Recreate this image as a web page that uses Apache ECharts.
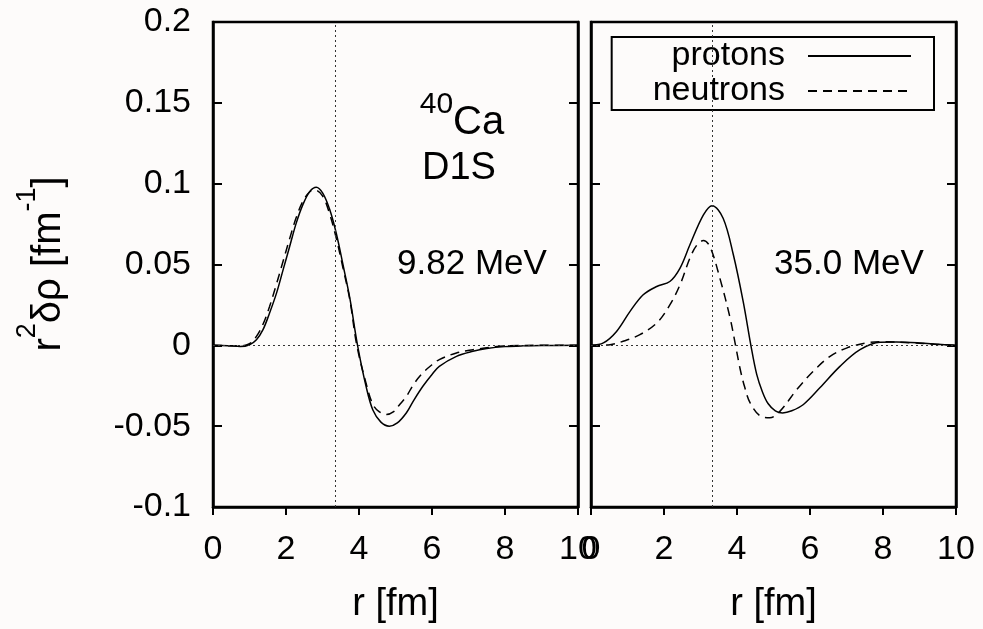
<!DOCTYPE html>
<html>
<head>
<meta charset="utf-8">
<script src="https://cdn.jsdelivr.net/npm/echarts@6/dist/echarts.min.js"></script>
<style>
html, body { margin: 0; padding: 0; background: #fdfbfa; }
#main { width: 983px; height: 629px; }
</style>
</head>
<body>
<div id="main"></div>
<script>
// r [fm], r^2 drho [fm^-1]
var leftProtons = [
    [0, 0], [0.4, -0.0003], [0.75, -0.0007], [1.0, 0.0004], [1.19, 0.0035], [1.37, 0.0097],
    [1.55, 0.020], [1.74, 0.0323], [1.92, 0.0467], [2.1, 0.0611], [2.28, 0.0756],
    [2.46, 0.0869], [2.65, 0.0951], [2.83, 0.0978], [3.01, 0.094], [3.2, 0.0838],
    [3.38, 0.069], [3.56, 0.050], [3.75, 0.029], [3.96, 0.0], [4.2, -0.026],
    [4.38, -0.040], [4.6, -0.0475], [4.83, -0.050], [5.05, -0.048], [5.3, -0.0417],
    [5.5, -0.034], [5.75, -0.0253], [6.0, -0.018], [6.2, -0.013], [6.67, -0.0068],
    [7.12, -0.0037], [7.5, -0.002], [8.0, -0.0008], [8.5, -0.0003], [9.0, -0.0001], [10, 0]
];
var leftNeutrons = [
    [0, 0], [0.4, -0.0002], [0.75, -0.0004], [1.0, 0.001], [1.19, 0.0055], [1.37, 0.013],
    [1.55, 0.024], [1.74, 0.038], [1.92, 0.052], [2.1, 0.066], [2.28, 0.079],
    [2.46, 0.089], [2.65, 0.095], [2.78, 0.0961], [3.0, 0.0925], [3.2, 0.081],
    [3.38, 0.066], [3.56, 0.048], [3.75, 0.028], [3.94, 0.0], [4.2, -0.024],
    [4.38, -0.0366], [4.55, -0.041], [4.75, -0.0428], [4.95, -0.041], [5.1, -0.037],
    [5.3, -0.0315], [5.5, -0.024], [5.75, -0.017], [6.0, -0.012], [6.2, -0.0088],
    [6.67, -0.0047], [7.12, -0.0027], [7.5, -0.0015], [8.0, -0.0004], [9.0, 0], [10, 0]
];
var rightProtons = [
    [0, 0], [0.34, 0.0015], [0.7, 0.0086], [1.07, 0.021], [1.43, 0.0313], [1.8, 0.0364],
    [2.16, 0.0395], [2.44, 0.0478], [2.71, 0.0622], [3.08, 0.0807], [3.32, 0.0864],
    [3.62, 0.0786], [3.9, 0.056], [4.17, 0.027], [4.38, 0.0], [4.54, -0.018],
    [4.7, -0.029], [4.85, -0.036], [5.05, -0.0405], [5.25, -0.0418], [5.5, -0.0405],
    [5.82, -0.0366], [6.27, -0.0263], [6.82, -0.013], [7.37, -0.0027], [7.92, 0.0019],
    [8.37, 0.002], [9.0, 0.0015], [9.5, 0.0007], [10, 0]
];
var rightNeutrons = [
    [0, 0], [0.52, 0.0004], [0.88, 0.0025], [1.34, 0.0066], [1.8, 0.0138], [2.16, 0.025],
    [2.44, 0.0375], [2.71, 0.054], [2.9, 0.062], [3.08, 0.0648], [3.26, 0.061],
    [3.53, 0.0416], [3.81, 0.017], [3.96, 0.0], [4.08, -0.014], [4.2, -0.025],
    [4.36, -0.0356], [4.64, -0.0438], [4.9, -0.0448], [5.18, -0.0407], [5.64, -0.0273],
    [6.09, -0.016], [6.55, -0.0068], [7.0, -0.0017], [7.55, 0.0015], [8.0, 0.0023],
    [8.8, 0.0015], [9.4, 0.0007], [10, 0]
];
var rmsRadius = [3.36, 3.31];
var energies = ['9.82 MeV', '35.0 MeV'];
var seriesNames = ['protons', 'neutrons'];

var myChart = echarts.init(document.getElementById('main'));
var font = 'Liberation Sans, Arial, sans-serif';

function xAxisFor(i) {
    return {
        type: 'value', gridIndex: i, min: 0, max: 10, interval: 2,
        name: 'r [fm]', nameLocation: 'middle', nameGap: 79,
        nameTextStyle: { fontFamily: font, fontSize: 38, color: '#000' },
        axisLine: { show: true, onZero: false, lineStyle: { color: '#000', width: 2.5 } },
        axisTick: { show: true, inside: false, length: 8, lineStyle: { color: '#000', width: 2 } },
        axisLabel: { fontFamily: font, fontSize: 34, color: '#000', margin: 26 },
        splitLine: { show: false }
    };
}
function yAxisFor(i, pos, labels) {
    return {
        type: 'value', gridIndex: i, position: pos, min: -0.1, max: 0.2, interval: 0.05,
        axisLine: { show: true, onZero: false, lineStyle: { color: '#000', width: 2.5 } },
        axisTick: { show: true, inside: true, length: 9, lineStyle: { color: '#000', width: 2 } },
        axisLabel: { show: labels, fontFamily: font, fontSize: 34, color: '#000', margin: 22 },
        splitLine: { show: false }
    };
}
var dotted = { color: '#333', width: 1, type: [2, 3] };
function curve(name, data, i, dashed, marks) {
    var s = {
        name: name, type: 'line', xAxisIndex: i, yAxisIndex: i * 2,
        data: data, smooth: 0.35, symbol: 'none', color: '#000',
        lineStyle: { color: '#000', width: 1.5, type: dashed ? [9, 6] : 'solid' }
    };
    if (marks) {
        s.markLine = {
            silent: true, symbol: ['none', 'none'], label: { show: false },
            lineStyle: dotted,
            data: [{ xAxis: rmsRadius[i] }, { yAxis: 0 }]
        };
    }
    return s;
}

myChart.setOption({
    animation: false,
    backgroundColor: '#fdfbfa',
    grid: [
        { left: 213, top: 22, width: 365, height: 485, outerBoundsMode: 'none', show: true, borderColor: '#000', borderWidth: 2.5 },
        { left: 591, top: 22, width: 365, height: 485, outerBoundsMode: 'none', show: true, borderColor: '#000', borderWidth: 2.5 }
    ],
    xAxis: [xAxisFor(0), xAxisFor(1)],
    yAxis: [yAxisFor(0, 'left', true), yAxisFor(0, 'right', false),
            yAxisFor(1, 'left', false), yAxisFor(1, 'right', false)],
    legend: {
        data: seriesNames, orient: 'vertical', align: 'right',
        right: 49, top: 37, itemWidth: 103, itemHeight: 20, itemGap: 1,
        padding: [2, 22, 2, 41], borderColor: '#000', borderWidth: 2,
        itemStyle: { color: 'transparent', borderColor: 'transparent', borderWidth: 0, opacity: 0 },
        textStyle: { fontFamily: font, fontSize: 34, color: '#000', lineHeight: 34, padding: [0, 18, 0, 0] }
    },
    graphic: [
        {
            type: 'text', x: 49, y: 264, rotation: Math.PI / 2,
            style: {
                text: '{m|r}{s|2}{m|δρ [fm}{s|-1}{m|]}', align: 'center', verticalAlign: 'middle',
                rich: {
                    m: { fontFamily: font, fontSize: 40, lineHeight: 44, fill: '#000' },
                    s: { fontFamily: font, fontSize: 27, lineHeight: 27, padding: [0, 0, 42, 0], fill: '#000' }
                }
            }
        },
        {
            type: 'text', x: 462, y: 123,
            style: {
                text: '{s|40}{m|Ca}', align: 'center', verticalAlign: 'middle',
                rich: {
                    m: { fontFamily: font, fontSize: 40, lineHeight: 40, fill: '#000' },
                    s: { fontFamily: font, fontSize: 30, lineHeight: 30, padding: [0, 0, 36, 0], fill: '#000' }
                }
            }
        },
        { type: 'text', x: 459, y: 169, style: { text: 'D1S', font: '38px ' + font, fill: '#000', align: 'center', verticalAlign: 'middle' } },
        { type: 'text', x: 472, y: 264, style: { text: energies[0], font: '35px ' + font, fill: '#000', align: 'center', verticalAlign: 'middle' } },
        { type: 'text', x: 849, y: 264, style: { text: energies[1], font: '35px ' + font, fill: '#000', align: 'center', verticalAlign: 'middle' } }
    ],
    series: [
        curve(seriesNames[0], leftProtons, 0, false, true),
        curve(seriesNames[1], leftNeutrons, 0, true, false),
        curve(seriesNames[0], rightProtons, 1, false, true),
        curve(seriesNames[1], rightNeutrons, 1, true, false)
    ]
});
window.onresize = function () {
    myChart.resize();
};
</script>
</body>
</html>
